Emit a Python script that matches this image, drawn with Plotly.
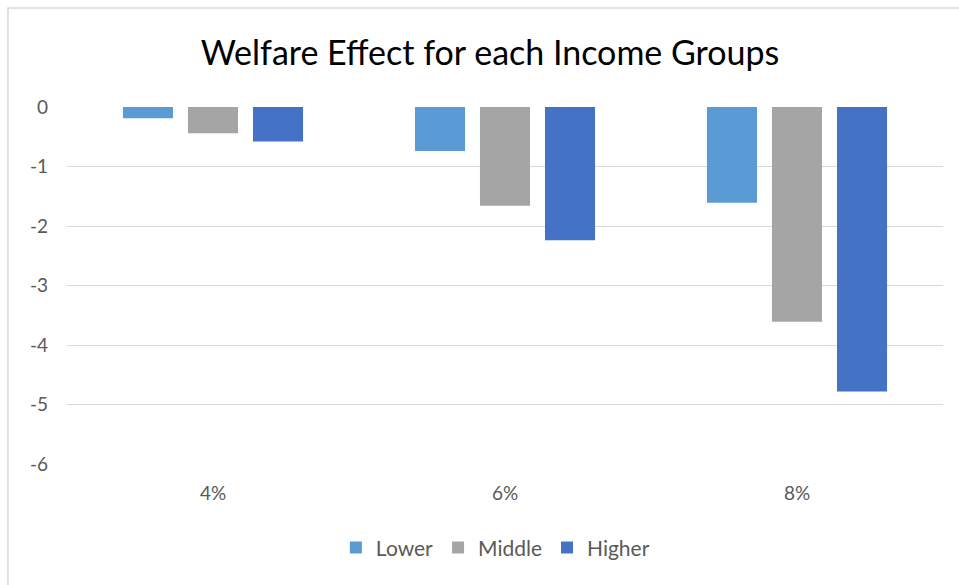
import plotly.graph_objects as go

categories = ["4%", "6%", "8%"]
series_names = ["Lower", "Middle", "Higher"]
lower = [-0.19, -0.74, -1.61]
middle = [-0.44, -1.66, -3.61]
higher = [-0.58, -2.24, -4.78]
colors = ["#5B9BD5", "#A5A5A5", "#4472C4"]
y_ticks = [0, -1, -2, -3, -4, -5, -6]

font_family = "Lato, 'Open Sans', sans-serif"
fig = go.Figure()
for name, vals, col in zip(series_names, [lower, middle, higher], colors):
    fig.add_trace(go.Bar(x=categories, y=vals, name=name, marker=dict(color=col, line=dict(width=0))))

fig.update_layout(
    width=959, height=585,
    margin=dict(l=67, r=16, t=107, b=121),
    paper_bgcolor="white", plot_bgcolor="white",
    barmode="group", bargap=0.332, bargroupgap=0.23,
    font=dict(family=font_family, color="#595959", size=19),
    title=dict(text="Welfare Effect for each Income Groups", x=0.511, y=0.909,
               xref="container", yref="container", xanchor="center", yanchor="middle",
               font=dict(family=font_family, size=34, color="#000000")),
    legend=dict(orientation="h", x=0.489, y=-0.235, xanchor="center", yanchor="middle",
                font=dict(size=21, color="#595959"), itemwidth=30, traceorder="normal"),
    showlegend=True,
)
fig.update_xaxes(showgrid=False, showline=False, ticks="", ticklabelstandoff=16,
                 tickfont=dict(size=19, color="#595959"))
fig.update_yaxes(range=[-6, 0], tickvals=y_ticks, ticktext=[str(v) for v in y_ticks],
                 showgrid=True, gridcolor="#D9D9D9", gridwidth=1.3, zeroline=False,
                 showline=False, ticks="", ticklabelstandoff=18,
                 tickfont=dict(size=19, color="#595959"))
fig.add_shape(type="rect", xref="paper", yref="paper", x0=-0.0674, y0=-0.6, x1=1.2, y1=1.277,
              line=dict(color="#D9D9D9", width=1.5), fillcolor="rgba(0,0,0,0)", layer="below")
fig.write_html("out.html", config={"displayModeBar": False},
               post_script="document.body.style.margin='0';document.body.style.padding='0';")
